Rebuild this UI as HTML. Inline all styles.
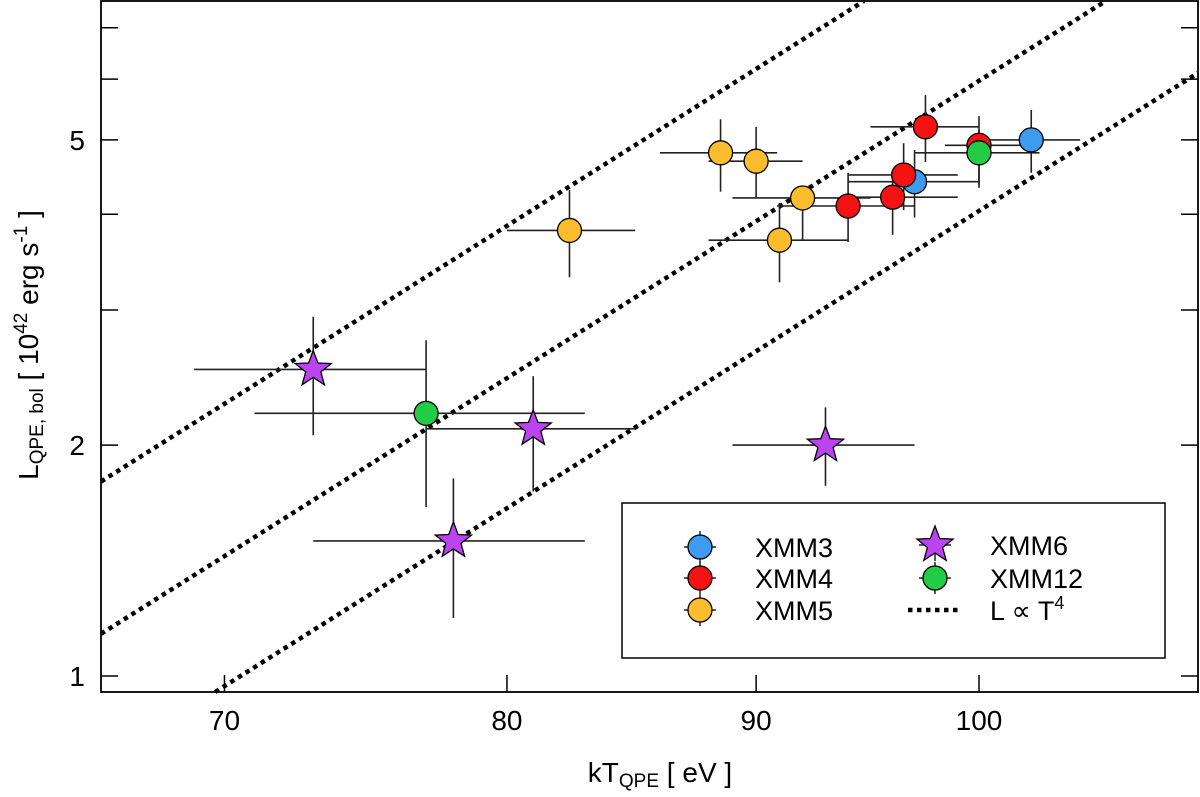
<!DOCTYPE html>
<html><head><meta charset="utf-8"><style>
html,body{margin:0;padding:0;background:#fff;overflow:hidden;width:1200px;height:797px}
svg{display:block}
svg text{font-family:"Liberation Sans",sans-serif;fill:#000}
</style></head><body>
<svg id="chart" width="1200" height="797" viewBox="0 0 1200 797" xmlns="http://www.w3.org/2000/svg">
<g id="lines"></g>
<g id="errs"></g>
<g id="marks"></g>
<g id="axes"></g>
<g>
<rect x="622" y="503" width="543" height="155" fill="#fff" stroke="#000" stroke-width="1.5"/>
<g id="leg"></g>
</g>
<text x="660" y="782" font-size="28" text-anchor="middle">kT<tspan font-size="19" dy="5">QPE</tspan><tspan dy="-5"> [ eV ]</tspan></text>
<text transform="translate(38,345) rotate(-90)" font-size="28" text-anchor="middle">L<tspan font-size="19" dy="5">QPE, bol</tspan><tspan dy="-5"> [ 10</tspan><tspan font-size="19" dy="-11">42</tspan><tspan dy="11"> erg s</tspan><tspan font-size="19" dy="-11">-1</tspan><tspan dy="11"> ]</tspan></text>
</svg>
<script>
// data arrays: [T, L, Tlo, Thi, Llo, Lhi]
const xmm3 = [[102.5,5.0,100.3,104.9,4.53,5.47],[97.0,4.41,94.0,100.0,3.96,4.85]];
const xmm4 = [[97.5,5.20,95.0,100.0,4.68,5.72],[100.0,4.92,98.4,102.9,4.33,5.37],[96.5,4.50,94.0,99.0,4.05,4.95],[96.0,4.21,94.0,99.0,3.76,4.50],[94.0,4.10,90.9,97.0,3.68,4.53]];
const xmm5 = [[88.5,4.81,86.0,90.9,4.28,5.32],[90.0,4.69,88.0,92.0,4.21,5.20],[92.0,4.20,89.0,95.0,3.70,4.34],[91.0,3.70,88.0,94.0,3.26,4.14],[82.4,3.81,80.0,85.0,3.31,4.30]];
const xmm6 = [[73.0,2.51,69.0,77.0,2.06,2.94],[81.0,2.10,77.0,85.0,1.74,2.46],[78.0,1.50,73.0,83.0,1.19,1.81],[93.0,2.00,89.0,97.0,1.77,2.24]];
const xmm12 = [[77.0,2.20,71.0,83.0,1.66,2.74],[100.0,4.81,97.0,102.9,4.37,5.15]];
const lineNorms = [9.43,5.97,4.04]; // L at T=100 for L ∝ T^4
const xTicks = [70,80,90,100];
const yTicks = [1,2,3,4,5,6,7];
const yLabels = ["1","2","","","5","",""];

const L=101,R=1198,T=1,B=692;
const X=t=>979+(Math.log10(t)-2)*4871;
const Y=v=>676-Math.log10(v)*767;
const Xinv=px=>Math.pow(10,2+(px-979)/4871);
const Yinv=py=>Math.pow(10,(676-py)/767);
const NS="http://www.w3.org/2000/svg";
function mk(tag,attrs,parent){const e=document.createElementNS(NS,tag);for(const k in attrs)e.setAttribute(k,attrs[k]);parent.appendChild(e);return e;}
const gl=document.getElementById('lines'),ge=document.getElementById('errs'),gm=document.getElementById('marks'),ga=document.getElementById('axes'),gleg=document.getElementById('leg');

lineNorms.forEach((A,i)=>{
  const tB=100*Math.pow(Yinv(B)/A,0.25), tT=100*Math.pow(Yinv(T)/A,0.25);
  const t0=Math.max(Xinv(L),tB), t1=Math.min(Xinv(R),tT);
  const l=mk('line',{x1:X(t0),y1:Y(A*Math.pow(t0/100,4)),x2:X(t1),y2:Y(A*Math.pow(t1/100,4)),stroke:'#000','stroke-width':4.5,'stroke-dasharray':'4.5 4.5'},gl);
  
  
});

function star(cx,cy,r){let p=[];for(let i=0;i<10;i++){const a=-Math.PI/2+i*Math.PI/5;const rr=i%2?r*0.42:r;p.push((cx+rr*Math.cos(a)).toFixed(1)+','+(cy+rr*Math.sin(a)).toFixed(1));}return p.join(' ');}
function drawMarker(cx,cy,color,isStar,parent,name){
  let e;
  if(isStar) e=mk('polygon',{points:star(cx,cy,19),fill:color,stroke:'#000','stroke-width':1.3},parent);
  else e=mk('circle',{cx:cx,cy:cy,r:12,fill:color,stroke:'#000','stroke-width':1.3},parent);
  
  
}
const series=[[xmm3,'#3d9cf0',false,'xmm3'],[xmm4,'#f51212',false,'xmm4'],[xmm5,'#fbbd2e',false,'xmm5'],[xmm6,'#bb44f0',true,'xmm6'],[xmm12,'#22cc44',false,'xmm12']];
series.forEach(([d,c,s,n])=>d.forEach((p,i)=>{
  const h=mk('line',{x1:X(p[2]),x2:X(p[3]),y1:Y(p[1]),y2:Y(p[1]),stroke:'#222','stroke-width':1.6},ge);
  
  
  const v=mk('line',{x1:X(p[0]),x2:X(p[0]),y1:Y(p[4]),y2:Y(p[5]),stroke:'#222','stroke-width':1.6},ge);
  
  
}));
series.forEach(([d,c,s,n])=>d.forEach((p,i)=>drawMarker(X(p[0]),Y(p[1]),c,s,gm,n+'-point-'+i)));

const frame=mk('rect',{x:L,y:T,width:R-L,height:B-T,fill:'none',stroke:'#000','stroke-width':1.8},ga);


xTicks.forEach(t=>{
  const tk=mk('line',{x1:X(t),x2:X(t),y1:B,y2:B-17,stroke:'#000','stroke-width':1.5},ga);
  
  
  const tx=mk('text',{x:X(t),y:B+38,'font-size':28,'text-anchor':'middle'},ga);
  tx.textContent=t;
  
  
});
yTicks.forEach((v,i)=>{
  [[L,L+17],[R,R-17]].forEach(([a,b])=>{
    const tk=mk('line',{x1:a,x2:b,y1:Y(v),y2:Y(v),stroke:'#000','stroke-width':1.5},ga);
    
    
  });
  if(yLabels[i]){
    const tx=mk('text',{x:L-16,y:Y(v)+10,'font-size':28,'text-anchor':'end'},ga);
    tx.textContent=yLabels[i];
    
    
  }
});

const legItems=[['XMM3','#3d9cf0',false,700,547],['XMM4','#f51212',false,700,578],['XMM5','#fbbd2e',false,700,610],['XMM6','#bb44f0',true,935,545],['XMM12','#22cc44',false,935,578]];
legItems.forEach(([t,c,s,x,y])=>{
  const v=mk('line',{x1:x,x2:x,y1:y-16,y2:y+16,stroke:'#222','stroke-width':1.5},gleg);
  
  
  const h=mk('line',{x1:x-16,x2:x+16,y1:y,y2:y,stroke:'#222','stroke-width':1.5},gleg);
  
  
  drawMarker(x,y,c,s,gleg,'legend-marker-'+t.toLowerCase());
  const tx=mk('text',{x:x+55,y:y+10,'font-size':27},gleg);
  tx.textContent=t;
  
  
});
const dl=mk('line',{x1:908,x2:960,y1:610,y2:610,stroke:'#000','stroke-width':4.5,'stroke-dasharray':'4.5 4.5'},gleg);


const lt=mk('text',{x:990,y:620,'font-size':27},gleg);
lt.innerHTML='L ∝ T<tspan font-size="18" dy="-11">4</tspan>';


</script>
</body></html>
